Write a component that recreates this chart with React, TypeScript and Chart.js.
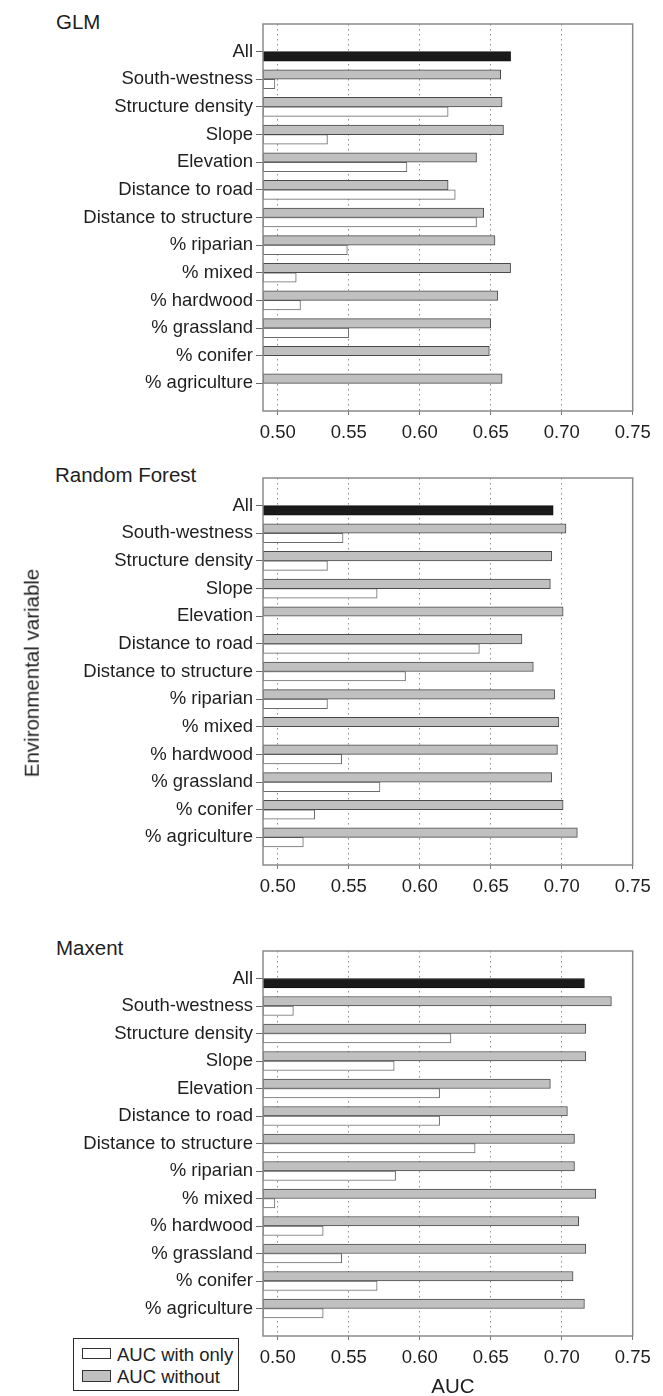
import React, { useEffect, useRef } from "react";
import { Chart, registerables } from "chart.js";

Chart.register(...registerables);

// ---------- data ----------
const variables = [
  "All",
  "South-westness",
  "Structure density",
  "Slope",
  "Elevation",
  "Distance to road",
  "Distance to structure",
  "% riparian",
  "% mixed",
  "% hardwood",
  "% grassland",
  "% conifer",
  "% agriculture",
];

const xTickValues = [0.5, 0.55, 0.6, 0.65, 0.7, 0.75];
const X_MIN = 0.4896;
const X_MAX = 0.75;

// order: South-westness ... % agriculture (12 variables)
const glmAll = 0.664;
const glmWithout = [0.657, 0.658, 0.659, 0.64, 0.62, 0.645, 0.653, 0.664, 0.655, 0.65, 0.649, 0.658];
const glmWithOnly = [0.498, 0.62, 0.535, 0.591, 0.625, 0.64, 0.549, 0.513, 0.516, 0.55, null, null];

const rfAll = 0.694;
const rfWithout = [0.703, 0.693, 0.692, 0.701, 0.672, 0.68, 0.695, 0.698, 0.697, 0.693, 0.701, 0.711];
const rfWithOnly = [0.546, 0.535, 0.57, null, 0.642, 0.59, 0.535, null, 0.545, 0.572, 0.526, 0.518];

const maxentAll = 0.716;
const maxentWithout = [0.735, 0.717, 0.717, 0.692, 0.704, 0.709, 0.709, 0.724, 0.712, 0.717, 0.708, 0.716];
const maxentWithOnly = [0.511, 0.622, 0.582, 0.614, 0.614, 0.639, 0.583, 0.498, 0.532, 0.545, 0.57, 0.532];

// ---------- styling ----------
const FONT = "'Liberation Sans', Arial, Helvetica, sans-serif";
const TEXT = "#1e1e1e";
Chart.defaults.font.family = FONT;

const framePlugin = {
  id: "frame",
  afterDatasetsDraw(chart: any) {
    const { ctx, chartArea: a } = chart;
    ctx.save();
    ctx.strokeStyle = "#8a8a8a";
    ctx.lineWidth = 1.5;
    ctx.strokeRect(a.left, a.top, a.right - a.left, a.bottom - a.top);
    ctx.restore();
  },
};

type PanelProps = {
  top: number;
  boxHeight: number;
  allValue: number;
  without: (number | null)[];
  withOnly: (number | null)[];
};

const PAD_TOP = 20;
const X_AXIS_H = 40;
const AREA_LEFT = 263;
const AREA_RIGHT = 632.7;

function Panel({ top, boxHeight, allValue, without, withOnly }: PanelProps) {
  const ref = useRef<HTMLCanvasElement>(null);
  const height = PAD_TOP + boxHeight + X_AXIS_H;
  useEffect(() => {
    const labels = ["", ...variables, ""];
    const n = labels.length;
    const withoutData = [null, null, ...without, null];
    const withOnlyData = [null, allValue, ...withOnly, null];
    const chart = new Chart(ref.current as HTMLCanvasElement, {
      type: "bar",
      data: {
        labels,
        datasets: [
          {
            label: "AUC without",
            data: withoutData as any,
            backgroundColor: "#c0c0c0",
            borderColor: "#4a4a4a",
            borderWidth: 1,
            borderSkipped: false,
            barThickness: 9.5,
            base: X_MIN,
          } as any,
          {
            label: "AUC with only",
            data: withOnlyData as any,
            backgroundColor: labels.map((_, i) => (i === 1 ? "#1a1a1a" : "#ffffff")),
            borderColor: labels.map((_, i) => (i === 1 ? "#111111" : "#6a6a6a")),
            borderWidth: 1,
            borderSkipped: false,
            barThickness: 9.5,
            base: X_MIN,
          } as any,
        ],
      },
      options: {
        indexAxis: "y",
        animation: false,
        responsive: false,
        maintainAspectRatio: false,
        layout: { padding: { top: PAD_TOP, left: 0, right: 663 - AREA_RIGHT, bottom: 0 } },
        plugins: { legend: { display: false }, tooltip: { enabled: false }, title: { display: false } },
        scales: {
          x: {
            type: "linear",
            min: X_MIN,
            max: X_MAX,
            afterBuildTicks: (s: any) => {
              s.ticks = xTickValues.map((v) => ({ value: v }));
            },
            afterFit: (s: any) => {
              s.height = X_AXIS_H;
            },
            ticks: {
              callback: (v: any) => Number(v).toFixed(2),
              font: { family: FONT, size: 18.5 },
              color: TEXT,
              padding: 7,
              maxRotation: 0,
              autoSkip: false,
            },
            grid: {
              color: "#8f8f8f",
              lineWidth: 1,
              drawTicks: true,
              tickLength: 4,
              tickColor: "#777777",
              offset: false,
            },
            border: { display: false, dash: [1.5, 3.5] },
          },
          y: {
            type: "category",
            offset: false,
            afterBuildTicks: (s: any) => {
              s.ticks = s.ticks.filter((t: any) => t.value >= 1 && t.value <= n - 2);
            },
            afterFit: (s: any) => {
              s.width = AREA_LEFT;
            },
            ticks: {
              autoSkip: false,
              font: { family: FONT, size: 18.5 },
              color: TEXT,
              padding: 3,
            },
            grid: {
              offset: false,
              drawOnChartArea: false,
              drawTicks: true,
              tickLength: 7,
              tickColor: "#666666",
            },
            border: { display: false },
          },
        },
      },
      plugins: [framePlugin],
    } as any);
    return () => chart.destroy();
  }, []);
  return (
    <canvas
      ref={ref}
      width={663}
      height={height}
      style={{ position: "absolute", left: 0, top: top - PAD_TOP, width: 663, height }}
    />
  );
}

const textStyle: React.CSSProperties = {
  position: "absolute",
  fontFamily: FONT,
  color: TEXT,
  lineHeight: 1,
  whiteSpace: "nowrap",
};

export default function App() {
  return (
    <div style={{ position: "absolute", left: 0, top: 0, width: 663, height: 1396, background: "#ffffff", overflow: "hidden" }}>
      <div style={{ ...textStyle, left: 56, top: 11.7, fontSize: 20.5 }}>GLM</div>
      <div style={{ ...textStyle, left: 55, top: 465, fontSize: 20.5 }}>Random Forest</div>
      <div style={{ ...textStyle, left: 56, top: 938.3, fontSize: 20.5 }}>Maxent</div>

      <Panel top={24} boxHeight={387} allValue={glmAll} without={glmWithout} withOnly={glmWithOnly} />
      <Panel top={478} boxHeight={387} allValue={rfAll} without={rfWithout} withOnly={rfWithOnly} />
      <Panel top={951} boxHeight={385} allValue={maxentAll} without={maxentWithout} withOnly={maxentWithOnly} />

      <div
        style={{
          ...textStyle,
          left: 31.7,
          top: 673,
          fontSize: 20.5,
          transform: "translate(-50%, -50%) rotate(-90deg)",
        }}
      >
        Environmental variable
      </div>

      <div style={{ ...textStyle, left: 453, top: 1375.7, fontSize: 20.5, transform: "translateX(-50%)" }}>AUC</div>

      <div
        style={{
          position: "absolute",
          left: 73,
          top: 1338,
          width: 166,
          height: 53,
          boxSizing: "border-box",
          border: "1.5px solid #2a2a2a",
          background: "#fff",
        }}
      >
        <div style={{ position: "absolute", left: 7.5, top: 9, width: 29, height: 11, boxSizing: "border-box", border: "1px solid #333", background: "#fff" }} />
        <div style={{ ...textStyle, left: 43, top: 6.5, fontSize: 18.5 }}>AUC with only</div>
        <div style={{ position: "absolute", left: 7.5, top: 31, width: 29, height: 12, boxSizing: "border-box", border: "1px solid #333", background: "#c0c0c0" }} />
        <div style={{ ...textStyle, left: 43, top: 28.5, fontSize: 18.5 }}>AUC without</div>
      </div>
    </div>
  );
}
